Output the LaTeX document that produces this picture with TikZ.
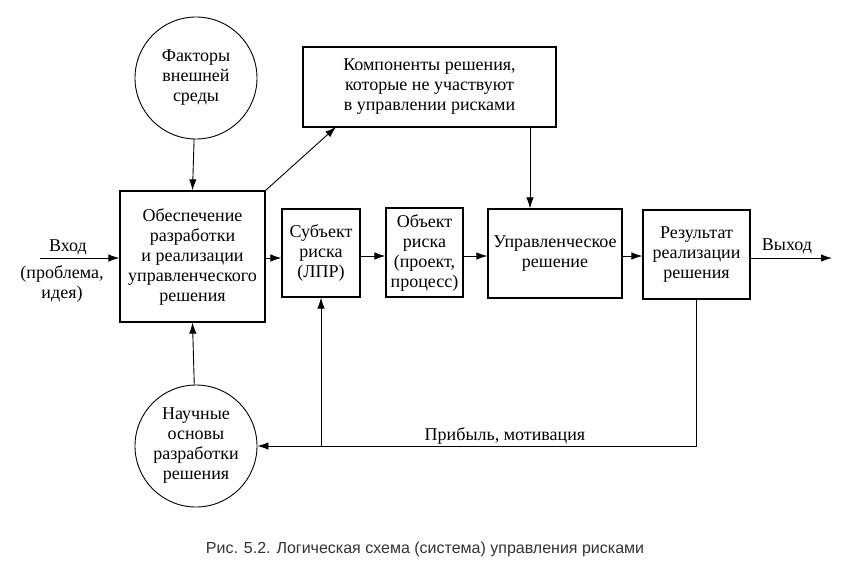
\documentclass[tikz,border=0pt]{standalone}
\usepackage{fontspec}
\setmainfont{Liberation Serif}
\newfontfamily\capfont{Liberation Sans}
\usetikzlibrary{arrows.meta}
\begin{document}
\begin{tikzpicture}[x=1pt,y=-1pt,
  txt/.style={font=\fontsize{18}{20}\selectfont, align=center, inner sep=0pt},
  box/.style={txt, draw, line width=1.2pt},
  circ/.style={txt, draw, circle, line width=0.9pt, minimum size=122pt},
  arr/.style={line width=0.9pt, -{Latex[length=11pt,width=7.5pt]}},
  ln/.style={line width=0.9pt}]
\useasboundingbox (0,0) rectangle (845,576);
\fill[white] (0,0) rectangle (845,576);

\node[circ] (fakt) at (196,78) {Факторы\\внешней\\среды};
\node[circ] (nauch) at (196,446) {Научные\\основы\\разработки\\решения};
\node[box, minimum width=253pt, minimum height=80pt] (komp) at (429.5,87) {Компоненты решения,\\которые не участвуют\\в управлении рисками};
\node[box, minimum width=145pt, minimum height=131pt] (obes) at (192.5,256.5) {Обеспечение\\разработки\\и реализации\\управленческого\\решения};
\node[box, minimum width=78pt, minimum height=88pt] (subj) at (321,253) {Субъект\\риска\\(ЛПР)};
\node[box, minimum width=77pt, minimum height=89pt] (obj) at (424.5,252.5) {Объект\\риска\\(проект,\\процесс)};
\node[box, minimum width=134pt, minimum height=89pt] (upr) at (555,253.5) {Управленческое\\решение};
\node[box, minimum width=107pt, minimum height=89pt] (rez) at (696.5,254.5) {Результат\\реализации\\решения};

\coordinate (in) at (40,258);
\coordinate (out) at (832,258);
\coordinate (kx) at (530,0);
\coordinate (kd) at (336,127);

\node[txt] (vhod) at (68,247) {Вход};
\node[txt] (vhodp) at (62,284) {(проблема,\\идея)};
\node[txt] (vyhod) at (787,246) {Выход};
\node[txt] (prib) at (505,436) {Прибыль, мотивация};

\draw[arr] (in) -- (in -| obes.west);
\draw[arr] (fakt) -- (obes.north);
\draw[arr] (nauch) -- (obes.south);
\draw[arr] (obes.east |- in) -- (subj.west |- in);
\draw[arr] (obes.north east) -- (kd);
\draw[arr] (subj.east |- 0,256) -- (obj.west |- 0,256);
\draw[arr] (obj.east |- 0,256) -- (upr.west |- 0,256);
\draw[arr] (komp.south -| kx) -- (upr.north -| kx);
\draw[arr] (upr.east |- 0,256) -- (rez.west |- 0,256);
\draw[arr] (rez.east |- out) -- (out);
\draw[arr] (rez.south) |- (nauch.east);
\draw[arr] (subj.south |- nauch.east) -- (subj.south);

\node[font=\capfont\fontsize{16}{18}\selectfont, text=black!80, inner sep=0pt] (cap) at (425,549) {Рис. 5.2. Логическая схема (система) управления рисками};
\end{tikzpicture}
\end{document}
